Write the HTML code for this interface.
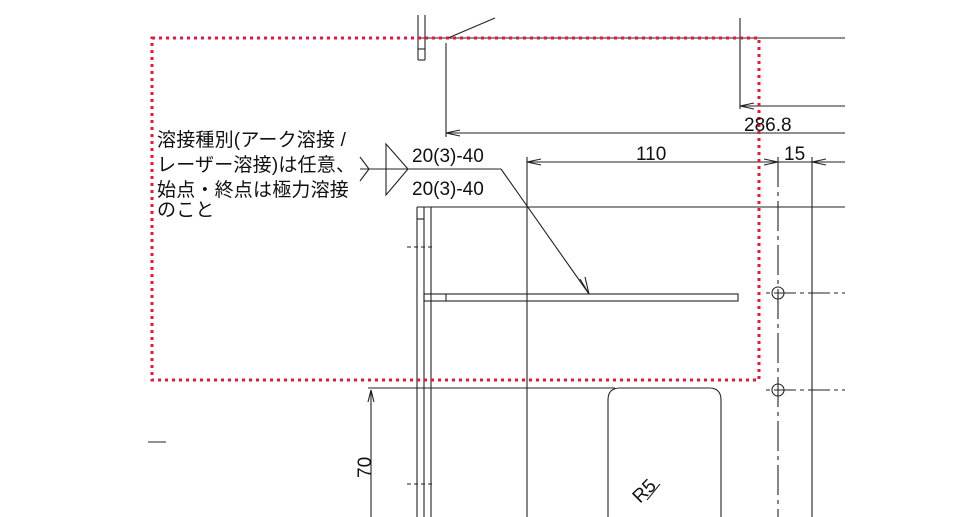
<!DOCTYPE html>
<html><head><meta charset="utf-8"><style>
html,body{margin:0;padding:0;background:#fff;width:973px;height:517px;overflow:hidden}
.t{position:absolute;font-family:"Liberation Sans","Noto Sans CJK JP",sans-serif;font-size:19px;color:#111;line-height:22px;white-space:nowrap;letter-spacing:0.2px}
</style></head><body>
<svg width="973" height="517" style="position:absolute;left:0;top:0" font-family="Liberation Sans, sans-serif">
<g stroke="#222" stroke-width="1.1" fill="none">
<line x1="418" y1="15" x2="418" y2="60"/><line x1="425" y1="15" x2="425" y2="60"/>
<line x1="418" y1="49" x2="425" y2="49"/><line x1="418" y1="60" x2="425" y2="60"/>
<line x1="418" y1="38" x2="845" y2="38"/>
<line x1="448" y1="38" x2="495" y2="18"/>
<line x1="740" y1="18" x2="740" y2="109"/>
<line x1="740" y1="106" x2="845" y2="106"/>
<path d="M754,103 L740,106 L754,109"/>
<line x1="446" y1="43" x2="446" y2="137"/>
<line x1="446" y1="133" x2="845" y2="133"/>
<path d="M460,130 L446,133 L460,136"/>
<line x1="527" y1="157" x2="527" y2="517"/>
<line x1="527" y1="162" x2="845" y2="162"/>
<path d="M541,159 L527,162 L541,165"/>
<path d="M764,159 L778,162 L764,165"/>
<path d="M826,159 L812,162 L826,165"/>
<line x1="778" y1="157" x2="778" y2="517" stroke-dasharray="30,5,4,5"/>
<line x1="812" y1="157" x2="812" y2="517"/>
<line x1="417" y1="207" x2="845" y2="207"/>
<line x1="417" y1="207" x2="417" y2="517"/><line x1="424" y1="207" x2="424" y2="517"/><line x1="431" y1="207" x2="431" y2="517"/>
<line x1="417" y1="219" x2="424" y2="219"/>
<line x1="407" y1="247" x2="434" y2="247" stroke-dasharray="4,3"/>
<line x1="407" y1="484" x2="434" y2="484" stroke-dasharray="4,3"/>
<rect x="424" y="294" width="314" height="7"/>
<line x1="446" y1="294" x2="446" y2="301"/>
<line x1="360" y1="169" x2="408" y2="169"/>
<path d="M360,157 L369,169 L360,181"/>
<path d="M386,144 L408,169 L386,195 Z"/>
<line x1="408" y1="169" x2="501" y2="169"/>
<line x1="501" y1="169" x2="589" y2="294"/>
<path d="M580,279 L589,294 L585,277"/>
<line x1="368" y1="388" x2="615" y2="388"/>
<line x1="371" y1="390" x2="371" y2="517"/>
<path d="M368,402 L371,390 L374,402"/>
<path d="M608,517 L608,400 Q608,388 620,388 L709,388 Q721,388 721,400 L721,517"/>
<circle cx="778" cy="293" r="6"/><circle cx="778" cy="390" r="6"/>
<line x1="766" y1="293" x2="845" y2="293" stroke-dasharray="4,4,22,4"/>
<line x1="766" y1="390" x2="845" y2="390" stroke-dasharray="4,4,22,4"/>
<line x1="647" y1="500" x2="660" y2="484"/>
<line x1="148" y1="442" x2="166" y2="442"/>
</g>
<rect x="152" y="38" width="607" height="342" fill="none" stroke="#e8173a" stroke-width="3" stroke-dasharray="3,4"/>
<g font-size="19" fill="#111">
<text x="412" y="162">20(3)-40</text>
<text x="412" y="195">20(3)-40</text>
<text x="636" y="160">110</text>
<text x="744" y="131">286.8</text>
<text x="784" y="160">15</text>
<text transform="translate(371,478) rotate(-90)">70</text>
<text transform="translate(640,504) rotate(-45)">R5</text>
</g>
</svg>
<div class="t" style="left:157px;top:130px">溶接種別(アーク溶接 /</div>
<div class="t" style="left:157px;top:155px">レーザー溶接)は任意、</div>
<div class="t" style="left:157px;top:180px">始点・終点は極力溶接</div>
<div class="t" style="left:157px;top:200px">のこと</div>
</body></html>
